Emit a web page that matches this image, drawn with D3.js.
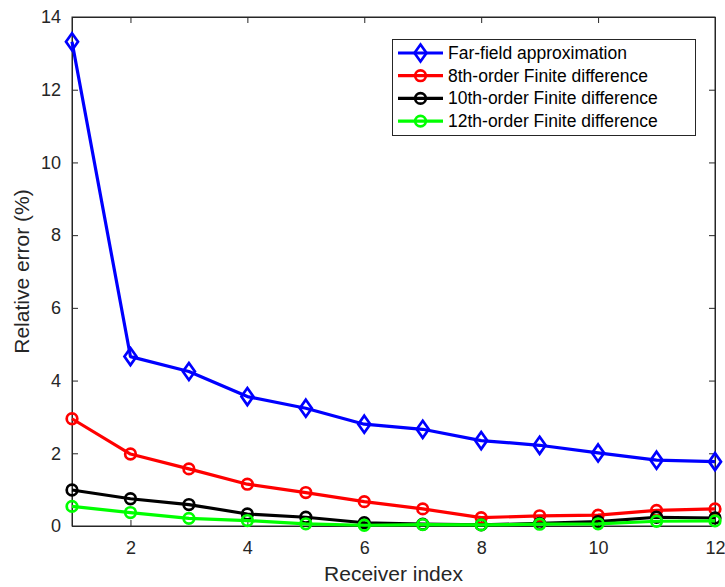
<!DOCTYPE html>
<html><head><meta charset="utf-8">
<script src="https://cdn.jsdelivr.net/npm/d3@7"></script>
<style>body{margin:0;background:#fff}svg{display:block}text{font-family:"Liberation Sans",Arial,sans-serif}</style>
</head><body><svg id="c" width="725" height="587"></svg>
<script>
const receivers = [1,2,3,4,5,6,7,8,9,10,11,12];
const farField = [13.32,4.66,4.25,3.56,3.24,2.80,2.66,2.35,2.22,2.01,1.81,1.77];
const fd8 = [2.95,1.98,1.57,1.15,0.92,0.67,0.47,0.23,0.28,0.30,0.43,0.47];
const fd10 = [0.99,0.75,0.59,0.33,0.24,0.09,0.05,0.03,0.07,0.12,0.24,0.22];
const fd12 = [0.54,0.37,0.21,0.15,0.06,0.02,0.04,0.03,0.05,0.06,0.13,0.14];
const xTicks = [2,4,6,8,10,12];
const yTicks = [0,2,4,6,8,10,12,14];
const seriesNames = ["Far-field approximation","8th-order Finite difference","10th-order Finite difference","12th-order Finite difference"];
const seriesColors = ["#0000ff","#ff0000","#000000","#00ff00"];
const seriesMarkers = ["diamond","circle","circle","circle"];
const seriesData = [farField, fd8, fd10, fd12];

const svg = d3.select("#c");
const L=72, R=715, T=17, B=526;
const x = d3.scaleLinear().domain([1,12]).range([L,R]);
const y = d3.scaleLinear().domain([0,14]).range([B,T]);
const axCol = "#262626";

svg.append("rect").attr("x",L).attr("y",T).attr("width",R-L).attr("height",B-T)
  .attr("fill","none").attr("stroke",axCol).attr("stroke-width",1);

const tl = 6;
const gx = svg.append("g").attr("transform",`translate(0,${B})`)
  .call(d3.axisBottom(x).tickValues(xTicks).tickSizeInner(-tl).tickSizeOuter(0).tickPadding(15));
const gxt = svg.append("g").attr("transform",`translate(0,${T})`)
  .call(d3.axisTop(x).tickValues(xTicks).tickSizeInner(-tl).tickSizeOuter(0).tickFormat(""));
const gy = svg.append("g").attr("transform",`translate(${L},0)`)
  .call(d3.axisLeft(y).tickValues(yTicks).tickSizeInner(-tl).tickSizeOuter(0).tickPadding(11));
const gyr = svg.append("g").attr("transform",`translate(${R},0)`)
  .call(d3.axisRight(y).tickValues(yTicks).tickSizeInner(-tl).tickSizeOuter(0).tickFormat(""));
[gx,gxt,gy,gyr].forEach(g=>{
  g.select(".domain").attr("stroke",axCol);
  g.selectAll(".tick line").attr("stroke",axCol);
  g.selectAll(".tick text").attr("fill",axCol).style("font-size","18px").style("font-family","'Liberation Sans',Arial,sans-serif");
});

svg.append("text").attr("x",(L+R)/2).attr("y",581).attr("text-anchor","middle")
  .attr("fill",axCol).style("font-size","21px").text("Receiver index");
svg.append("text").attr("transform",`translate(29,${(T+B)/2}) rotate(-90)`).attr("text-anchor","middle")
  .attr("fill",axCol).style("font-size","21px").text("Relative error (%)");

const line = d3.line().x((d,i)=>x(receivers[i])).y(d=>y(d));
function drawMarker(g, type, cx, cy, color){
  if(type==="circle"){
    g.append("circle").attr("cx",cx).attr("cy",cy).attr("r",5.3)
      .attr("fill","none").attr("stroke",color).attr("stroke-width",2.7);
  } else {
    const w=6, h=8.5;
    g.append("path").attr("d",`M${cx},${cy-h}L${cx+w},${cy}L${cx},${cy+h}L${cx-w},${cy}Z`)
      .attr("fill","none").attr("stroke",color).attr("stroke-width",2.7);
  }
}
const plot = svg.append("g");
seriesData.forEach((data,s)=>{
  const g = plot.append("g");
  g.append("path").datum(data).attr("d",line).attr("fill","none")
    .attr("stroke",seriesColors[s]).attr("stroke-width",3.2).attr("stroke-linejoin","round");
  data.forEach((v,i)=>drawMarker(g, seriesMarkers[s], x(receivers[i]), y(v), seriesColors[s]));
});

const lg = svg.append("g");
lg.append("rect").attr("x",392.5).attr("y",39.5).attr("width",303).attr("height",96)
  .attr("fill","#fff").attr("stroke",axCol).attr("stroke-width",1);
seriesNames.forEach((n,s)=>{
  const yy = 53 + s*22.7;
  lg.append("line").attr("x1",398).attr("x2",443).attr("y1",yy).attr("y2",yy)
    .attr("stroke",seriesColors[s]).attr("stroke-width",3.2);
  drawMarker(lg, seriesMarkers[s], 420.5, yy, seriesColors[s]);
  lg.append("text").attr("x",448).attr("y",yy+6).attr("fill","#000")
    .style("font-size","17.5px").text(n);
});
</script></body></html>
